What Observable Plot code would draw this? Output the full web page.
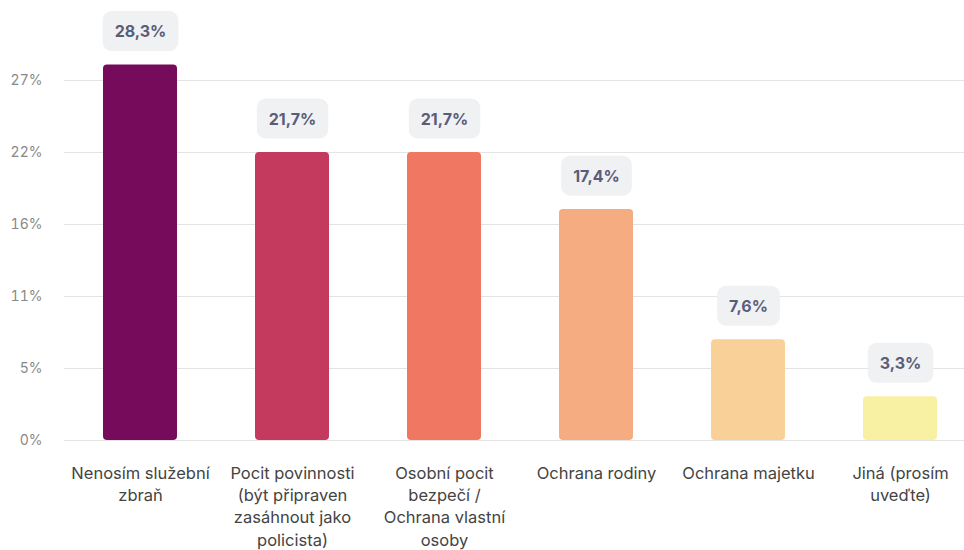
<!DOCTYPE html>
<html>
<head>
<meta charset="utf-8">
<script src="https://cdn.jsdelivr.net/npm/d3@7"></script>
<script src="https://cdn.jsdelivr.net/npm/@observablehq/plot@0.6"></script>
<style>
  html, body { margin: 0; padding: 0; background: #fff; }
  body { font-family: Inter, "Noto Sans", sans-serif; }
</style>
</head>
<body>
<div id="chart"></div>
<script>
const categories = [
  "Nenosím služební\nzbraň",
  "Pocit povinnosti\n(být připraven\nzasáhnout jako\npolicista)",
  "Osobní pocit\nbezpečí /\nOchrana vlastní\nosoby",
  "Ochrana rodiny",
  "Ochrana majetku",
  "Jiná (prosím\nuveďte)"
];
const values = [28.3, 21.7, 21.7, 17.4, 7.6, 3.3];
const colors = ["#770b5b", "#c43a5e", "#f07862", "#f4ac80", "#f9d098", "#f8f0a3"];
const tickValues = [0, 5.425, 10.85, 16.275, 21.7, 27.125];

const data = categories.map((c, i) => ({category: c, value: values[i], color: colors[i]}));

const chart = Plot.plot({
  width: 964,
  height: 550,
  marginLeft: 64,
  marginRight: 0,
  marginTop: 0,
  marginBottom: 110,
  style: {fontFamily: "Inter, sans-serif", background: "#fff"},
  x: {domain: categories, range: [64, 977], paddingInner: 0.513, paddingOuter: 0.2565, label: null},
  y: {domain: [0, 27.125], range: [440, 80], label: null},
  marks: [
    Plot.gridY(tickValues, {stroke: "#e4e4e4", strokeOpacity: 1, strokeWidth: 1.2}),
    Plot.axisY(tickValues, {tickSize: 0, tickPadding: 22, tickFormat: d => Math.round(d) + "%", fontSize: 14, fill: "#888", label: null}),
    Plot.axisX({tickSize: 0, tickPadding: 23, fontSize: 16.5, fill: "#444", lineHeight: 1.34, label: null}),
    Plot.barY(data, {x: "category", y: "value", fill: "color", rx: 4}),
    Plot.text(data, {x: "category", y: "value", text: d => d.value.toFixed(1).replace(".", ",") + "%", dy: -33, fill: "#5a5d7a", fontWeight: "bold", fontSize: 16, className: "vlabel"})
  ]
});

document.getElementById("chart").append(chart);

d3.select(chart).selectAll("g.vlabel text").each(function() {
  const b = this.getBBox();
  const cy = b.y + b.height / 2;
  const rect = document.createElementNS("http://www.w3.org/2000/svg", "rect");
  rect.setAttribute("x", b.x - 12);
  rect.setAttribute("y", cy - 20);
  rect.setAttribute("width", b.width + 24);
  rect.setAttribute("height", 40);
  rect.setAttribute("rx", 9);
  rect.setAttribute("fill", "#f0f1f2");
  const t = this.getAttribute("transform");
  if (t) rect.setAttribute("transform", t);
  this.parentNode.insertBefore(rect, this);
});
</script>
</body>
</html>
